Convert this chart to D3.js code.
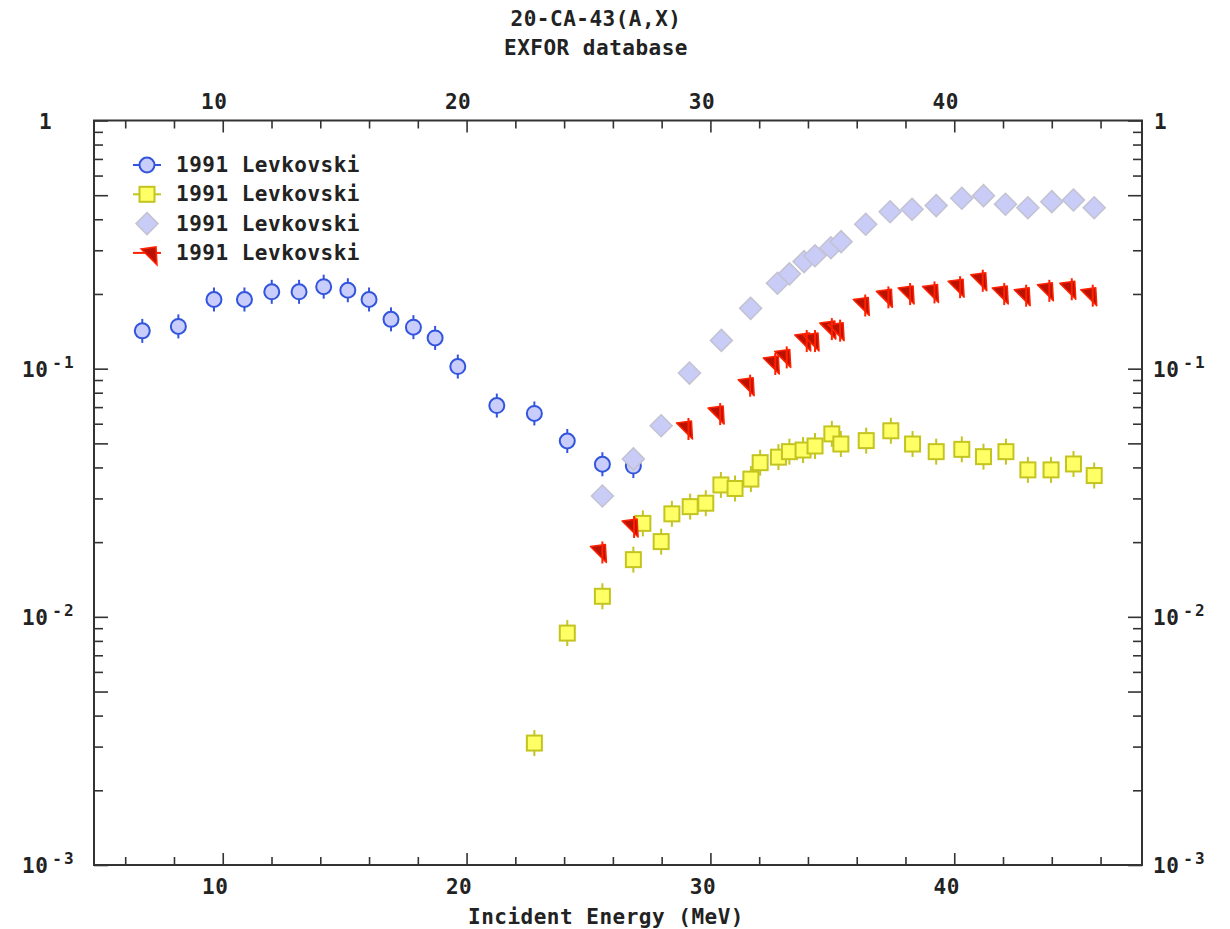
<!DOCTYPE html>
<html>
<head>
<meta charset="utf-8">
<script src="https://cdn.jsdelivr.net/npm/d3@7"></script>
<style>
  body { margin: 0; background: #fff; }
  text { font-family: "DejaVu Sans Mono", "Liberation Mono", monospace; font-weight: bold; fill: #222; letter-spacing: 0.5px; }
</style>
</head>
<body>
<div id="chart"></div>
<script>
// series values (energy in MeV, cross section)
var circE = [6.70, 8.18, 9.64, 10.89, 12.01, 13.13, 14.14, 15.13, 16.0, 16.90, 17.82, 18.71, 19.64, 21.24, 22.78, 24.13, 25.57, 26.84];
var circV = [0.142, 0.148, 0.190, 0.190, 0.204, 0.204, 0.214, 0.207, 0.190, 0.158, 0.147, 0.133, 0.102, 0.071, 0.066, 0.0511, 0.0412, 0.0405];

var sqE = [22.78, 24.13, 25.57, 26.84, 27.23, 27.98, 28.42, 29.17, 29.81, 30.43, 31.01, 31.66, 32.04, 32.79, 33.24, 33.80, 34.29, 34.98, 35.35, 36.39, 37.40, 38.29, 39.26, 40.31, 41.20, 42.12, 43.02, 43.97, 44.89, 45.74];
var sqV = [0.0031, 0.0086, 0.0121, 0.0170, 0.0238, 0.0201, 0.0260, 0.0278, 0.0287, 0.0340, 0.0329, 0.0359, 0.0418, 0.0440, 0.0463, 0.0470, 0.0488, 0.0546, 0.0497, 0.0513, 0.0562, 0.0497, 0.0463, 0.0473, 0.0442, 0.0463, 0.0391, 0.0391, 0.0413, 0.0371];

var dmE = [25.57, 26.84, 27.98, 29.14, 30.45, 31.65, 32.75, 33.24, 33.84, 34.29, 34.94, 35.36, 36.37, 37.37, 38.27, 39.26, 40.31, 41.20, 42.10, 43.02, 44.00, 44.89, 45.74];
var dmV = [0.0307, 0.0433, 0.0589, 0.096, 0.130, 0.175, 0.221, 0.241, 0.270, 0.285, 0.307, 0.325, 0.382, 0.429, 0.439, 0.454, 0.486, 0.498, 0.460, 0.445, 0.471, 0.478, 0.445];

var rdE = [25.57, 26.87, 29.10, 30.40, 31.63, 32.66, 33.13, 33.95, 34.29, 34.98, 35.32, 36.35, 37.30, 38.19, 39.19, 40.24, 41.17, 42.05, 42.95, 43.90, 44.82, 45.68];
var rdV = [0.0180, 0.0228, 0.0566, 0.065, 0.0846, 0.1035, 0.110, 0.128, 0.128, 0.143, 0.141, 0.178, 0.192, 0.198, 0.201, 0.211, 0.224, 0.198, 0.195, 0.204, 0.207, 0.195];

var legendLabels = ['1991 Levkovski', '1991 Levkovski', '1991 Levkovski', '1991 Levkovski'];
var titleLines = ['20-CA-43(A,X)', 'EXFOR database'];
var xTitle = 'Incident Energy (MeV)';
var xMajor = [10, 20, 30, 40];
var yDecades = [1e-3, 1e-2, 1e-1, 1];
var yLabels = [['10', '-3'], ['10', '-2'], ['10', '-1'], ['1', '']];

var W = 1230, H = 929;
var pLeft = 94, pRight = 1142, pTop = 120.5, pBottom = 865;

var svg = d3.select('#chart').append('svg')
  .attr('width', W)
  .attr('height', H);

var x = d3.scaleLinear().domain([4.72, 47.7]).range([pLeft, pRight]);
var y = d3.scaleLog().domain([1e-3, 1]).range([pBottom, pTop]);

function zip(es, vs) { return es.map(function (e, i) { return { e: e, v: vs[i] }; }); }

var axisColor = '#333';

// --- axes, ticks pointing inward on all four sides ---
function styleAxis(g) {
  g.select('.domain').remove();
  g.selectAll('line').attr('stroke', axisColor).attr('stroke-width', 1.6);
}
var xMinor = d3.range(6, 47, 2).filter(function (d) { return d % 10 !== 0; });

svg.append('g').attr('transform', 'translate(0,' + pBottom + ')')
  .call(d3.axisBottom(x).tickValues(xMinor).tickSize(-8).tickFormat(''))
  .call(styleAxis);
svg.append('g').attr('transform', 'translate(0,' + pBottom + ')')
  .call(d3.axisBottom(x).tickValues(xMajor).tickSize(-12).tickPadding(14).tickFormat(d3.format('d')))
  .call(styleAxis)
  .selectAll('text').attr('dx', -8).style('font-size', '21px').style('font-family', null);

svg.append('g').attr('transform', 'translate(0,' + pTop + ')')
  .call(d3.axisTop(x).tickValues(xMinor).tickSize(-8).tickFormat(''))
  .call(styleAxis);
svg.append('g').attr('transform', 'translate(0,' + pTop + ')')
  .call(d3.axisTop(x).tickValues(xMajor).tickSize(-12).tickPadding(12).tickFormat(d3.format('d')))
  .call(styleAxis)
  .selectAll('text').attr('dx', -9).style('font-size', '21px').style('font-family', null);

var yAll = y.ticks();
var yLong = yAll.filter(function (d) {
  var m = d / Math.pow(10, Math.floor(Math.log10(d) + 1e-9));
  return Math.abs(m - 1) < 1e-6 || Math.abs(m - 5) < 1e-6;
});
var yShort = yAll.filter(function (d) { return yLong.indexOf(d) < 0; });

[[d3.axisLeft, pLeft], [d3.axisRight, pRight]].forEach(function (a) {
  svg.append('g').attr('transform', 'translate(' + a[1] + ',0)')
    .call(a[0](y).tickValues(yShort).tickSize(-9).tickFormat(''))
    .call(styleAxis);
  svg.append('g').attr('transform', 'translate(' + a[1] + ',0)')
    .call(a[0](y).tickValues(yLong).tickSize(-14).tickFormat(''))
    .call(styleAxis);
});

// frame
svg.append('rect')
  .attr('x', pLeft).attr('y', pTop)
  .attr('width', pRight - pLeft).attr('height', pBottom - pTop)
  .attr('fill', 'none').attr('stroke', axisColor).attr('stroke-width', 2);

// y labels with superscript exponents
function yLabel(anchorX, anchor, oneX) {
  var t = svg.selectAll(null).data(yDecades).enter().append('text')
    .attr('x', function (d) { return d === 1 ? oneX : anchorX; })
    .attr('y', function (d) { return y(d) + 8; })
    .attr('text-anchor', anchor)
    .style('font-size', '21px');
  t.append('tspan').text(function (d, i) { return yLabels[i][0]; });
  t.append('tspan')
    .attr('dx', 4).attr('dy', -9)
    .style('font-size', '16px')
    .style('letter-spacing', '2px')
    .text(function (d, i) { return yLabels[i][1]; });
}
yLabel(22, 'start', 39);
yLabel(1153, 'start', 1154);

// titles
svg.selectAll('.title').data(titleLines).enter().append('text')
  .attr('class', 'title')
  .attr('x', 596)
  .attr('y', function (d, i) { return 26 + i * 29; })
  .attr('text-anchor', 'middle')
  .style('font-size', '21px')
  .text(function (d) { return d; });

svg.append('text')
  .attr('x', 606).attr('y', 924)
  .attr('text-anchor', 'middle')
  .style('font-size', '21px')
  .text(xTitle);

// --- markers ---
var circColor = { fill: '#c8cdfb', stroke: '#3355dd' };
var sqColor = { fill: '#ffff66', stroke: '#c4c420' };
var dmColor = { fill: '#c9ccf7', stroke: '#c2c2d2' };
var rdColor = { fill: '#bb1200', stroke: '#ff2200' };

var redPath = 'M-12,-7 L3,-9 L4,9 Z';

function errBars(g, data, color, up, down) {
  g.selectAll(null).data(data).enter().append('line')
    .attr('x1', function (d) { return x(d.e); })
    .attr('x2', function (d) { return x(d.e); })
    .attr('y1', function (d) { return y(d.v) - up; })
    .attr('y2', function (d) { return y(d.v) + down; })
    .attr('stroke', color).attr('stroke-width', 2);
}

var plot = svg.append('g');

// circles
var circData = zip(circE, circV);
errBars(plot, circData, circColor.stroke, 12, 12);
plot.selectAll('.circ').data(circData).enter().append('circle')
  .attr('class', 'circ')
  .attr('cx', function (d) { return x(d.e); })
  .attr('cy', function (d) { return y(d.v); })
  .attr('r', 7.5)
  .attr('fill', circColor.fill).attr('stroke', circColor.stroke).attr('stroke-width', 2);

// squares
var sqData = zip(sqE, sqV);
errBars(plot, sqData, sqColor.stroke, 13, 13);
plot.selectAll('.sq').data(sqData).enter().append('rect')
  .attr('class', 'sq')
  .attr('x', function (d) { return x(d.e) - 7.5; })
  .attr('y', function (d) { return y(d.v) - 7.5; })
  .attr('width', 15).attr('height', 15)
  .attr('fill', sqColor.fill).attr('stroke', sqColor.stroke).attr('stroke-width', 2);

// diamonds
var dmData = zip(dmE, dmV);
plot.selectAll('.dm').data(dmData).enter().append('path')
  .attr('class', 'dm')
  .attr('transform', function (d) { return 'translate(' + x(d.e) + ',' + y(d.v) + ')'; })
  .attr('d', 'M0,-11 L11,0 L0,11 L-11,0 Z')
  .attr('fill', dmColor.fill).attr('stroke', dmColor.stroke).attr('stroke-width', 1.5);

// red flags
var rdData = zip(rdE, rdV);
plot.selectAll('.rd').data(rdData).enter().append('path')
  .attr('class', 'rd')
  .attr('transform', function (d) { return 'translate(' + x(d.e) + ',' + y(d.v) + ')'; })
  .attr('d', redPath)
  .attr('fill', rdColor.fill).attr('stroke', rdColor.stroke).attr('stroke-width', 1.5)
  .attr('stroke-linejoin', 'round');
errBars(plot, rdData, rdColor.stroke, 12, 10);

// --- legend ---
var lg = svg.append('g');
var rowY = function (i) { return 165 + i * 29.3; };
var lx = 147;

[0, 1, 3].forEach(function (i) {
  var c = [circColor, sqColor, dmColor, rdColor][i];
  lg.append('line').attr('x1', lx - 14).attr('x2', lx + 14)
    .attr('y1', rowY(i)).attr('y2', rowY(i))
    .attr('stroke', c.stroke).attr('stroke-width', 2);
});
lg.append('circle').attr('cx', lx).attr('cy', rowY(0)).attr('r', 7.5)
  .attr('fill', circColor.fill).attr('stroke', circColor.stroke).attr('stroke-width', 2);
lg.append('rect').attr('x', lx - 7.5).attr('y', rowY(1) - 7.5).attr('width', 15).attr('height', 15)
  .attr('fill', sqColor.fill).attr('stroke', sqColor.stroke).attr('stroke-width', 2);
lg.append('path').attr('transform', 'translate(' + lx + ',' + rowY(2) + ')')
  .attr('d', 'M0,-11 L11,0 L0,11 L-11,0 Z')
  .attr('fill', dmColor.fill).attr('stroke', dmColor.stroke).attr('stroke-width', 1.5);
lg.append('path').attr('transform', 'translate(' + (lx + 6) + ',' + (rowY(3) + 3) + ')')
  .attr('d', redPath)
  .attr('fill', rdColor.fill).attr('stroke', rdColor.stroke).attr('stroke-width', 1.5);

lg.selectAll('.lt').data(legendLabels).enter().append('text')
  .attr('class', 'lt')
  .attr('x', 176)
  .attr('y', function (d, i) { return rowY(i) + 7; })
  .style('font-size', '21px')
  .text(function (d) { return d; });
</script>
</body>
</html>
